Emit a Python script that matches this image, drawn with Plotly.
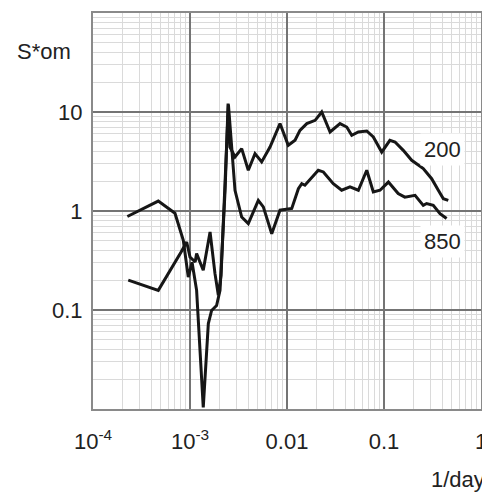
import plotly.graph_objects as go

# frequency (1/day) and spectral density * omega
freq_200 = [2.26e-4, 4.71e-4, 7.0e-4, 8.53e-4, 9.6e-4, 1.05e-3, 1.17e-3, 1.37e-3, 1.545e-3,
            1.67e-3, 1.88e-3, 2.04e-3, 2.30e-3, 2.47e-3, 2.58e-3, 2.91e-3, 3.41e-3, 3.99e-3,
            4.68e-3, 5.48e-3, 6.68e-3, 8.47e-3, 0.0103, 0.0121, 0.0136, 0.0160, 0.0195,
            0.0228, 0.0278, 0.0352, 0.0413, 0.0465, 0.0544, 0.0664, 0.0776, 0.0947, 0.115,
            0.130, 0.158, 0.193, 0.254, 0.310, 0.363, 0.409, 0.460]
s_200 = [0.88, 1.26, 0.95, 0.506, 0.215, 0.303, 0.158, 0.0104, 0.0729,
         0.099, 0.111, 0.158, 1.62, 12.2, 4.43, 3.51, 4.27, 2.58,
         3.80, 3.13, 4.43, 7.64, 4.61, 5.18, 6.53, 7.64, 8.24,
         10.0, 6.28, 7.64, 7.05, 5.82, 6.28, 6.43, 5.59, 3.94, 5.18,
         4.98, 4.10, 3.25, 2.68, 2.12, 1.62, 1.33, 1.28]

freq_850 = [2.31e-4, 4.71e-4, 8.07e-4, 9.24e-4, 1.0e-3, 1.13e-3, 1.17e-3, 1.37e-3, 1.61e-3,
            1.81e-3, 1.96e-3, 2.09e-3, 2.35e-3, 2.49e-3, 2.91e-3, 3.41e-3, 3.99e-3, 5.06e-3,
            5.70e-3, 6.96e-3, 8.47e-3, 0.0112, 0.0131, 0.0142, 0.0153, 0.0180, 0.0210,
            0.0237, 0.0300, 0.0366, 0.0446, 0.0544, 0.0664, 0.0776, 0.0910, 0.111, 0.140,
            0.164, 0.209, 0.254, 0.275, 0.322, 0.378, 0.442]
s_850 = [0.20, 0.158, 0.383, 0.486, 0.343, 0.305, 0.371, 0.252, 0.614,
         0.233, 0.141, 0.224, 3.25, 11.9, 1.62, 0.87, 0.746, 1.28,
         1.10, 0.59, 1.02, 1.06, 1.68, 1.89, 1.82, 2.20, 2.58,
         2.48, 1.89, 1.62, 1.75, 1.62, 2.58, 1.56, 1.62, 1.96, 1.50,
         1.38, 1.44, 1.14, 1.19, 1.14, 0.94, 0.84]

x_tickvals = [1e-4, 1e-3, 1e-2, 1e-1, 1]
x_ticktext = ["10<sup>-4</sup>", "10<sup>-3</sup>", "0.01", "0.1", "1"]
y_tickvals = [0.1, 1, 10]
y_ticktext = ["0.1", "1", "10"]

FONT = "Liberation Sans, Arial, sans-serif"
LINE = "#161616"

fig = go.Figure()
fig.add_trace(go.Scatter(x=freq_200, y=s_200, mode="lines", name="200",
                         line=dict(color=LINE, width=3)))
fig.add_trace(go.Scatter(x=freq_850, y=s_850, mode="lines", name="850",
                         line=dict(color=LINE, width=3)))

axis_common = dict(
    type="log", showline=True, mirror=True, linecolor="#8a8a8a", linewidth=2,
    showgrid=True, gridcolor="#747474", gridwidth=2, ticks="", zeroline=False,
    automargin=False, ticklabeloverflow="allow",
    tickfont=dict(family=FONT, size=22, color="#222"),
    minor=dict(dtick="D1", showgrid=True, gridcolor="#dadada", gridwidth=1, ticks=""),
)

fig.update_xaxes(range=[-4, 0], tickmode="array", tickvals=x_tickvals, ticktext=x_ticktext,
                 ticklabelstandoff=12, **axis_common)
fig.update_yaxes(range=[-2, 2], tickmode="array", tickvals=y_tickvals, ticktext=y_ticktext,
                 ticklabelstandoff=4, **axis_common)

ann_font = dict(family=FONT, size=22, color="#222")
common_ann = dict(xref="paper", yref="paper", showarrow=False, font=ann_font,
                  xanchor="center", yanchor="middle")
fig.add_annotation(text="200", x=0.902, y=0.655, bgcolor="white", borderpad=3, **common_ann)
fig.add_annotation(text="850", x=0.902, y=0.424, bgcolor="white", borderpad=3, **common_ann)
fig.add_annotation(text="S*om", x=-0.126, y=0.902, **common_ann)
fig.add_annotation(text="1/day", x=0.941, y=-0.179, **common_ann)

# page body has an 8px default margin, so the figure is drawn 8px in from the corner
fig.update_layout(
    width=482, height=487,
    margin=dict(l=85, r=9, t=5, b=86, autoexpand=False),
    paper_bgcolor="white", plot_bgcolor="white",
    showlegend=False,
)

fig.write_html("out.html")
